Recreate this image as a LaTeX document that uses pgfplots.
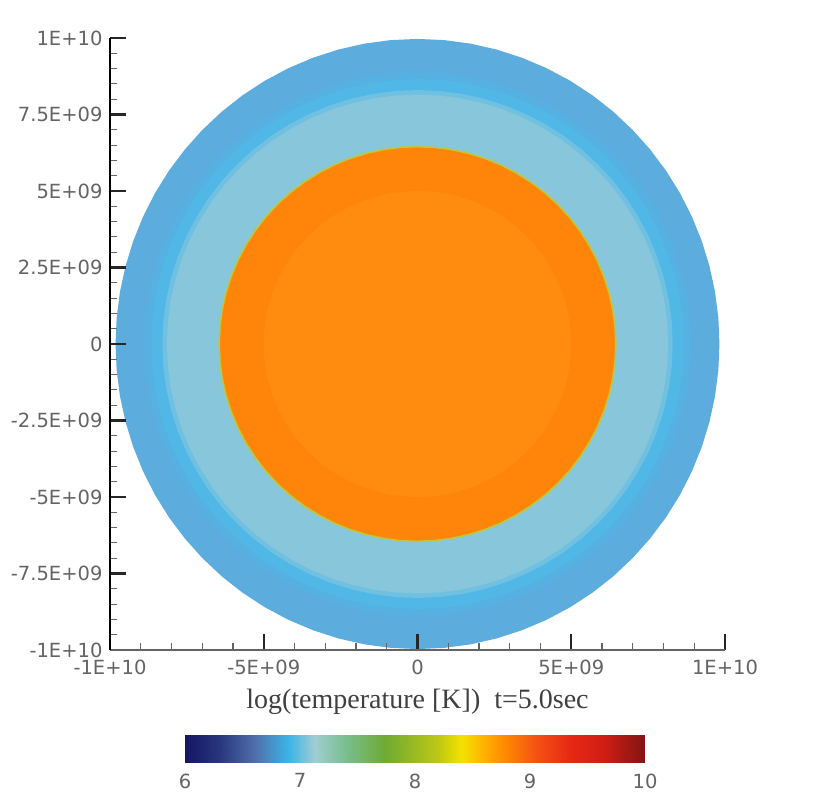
\documentclass[border=0pt]{standalone}
\usepackage{fontspec}
\usepackage{pgfplots}
\pgfplotsset{compat=1.18}
\usepackage{pgfplotstable}
\newfontfamily\ticklab{DejaVu Sans}
\newfontfamily\labfont{Liberation Serif}
\definecolor{tickgray}{RGB}{100,100,100}
\definecolor{bluemid}{RGB}{92,172,222}
\definecolor{bluetr}{RGB}{86,177,226}
\definecolor{bluebright}{RGB}{80,183,230}
\definecolor{bluetr2}{RGB}{112,192,226}
\definecolor{bluelight}{RGB}{136,198,220}
\definecolor{edgegreen}{RGB}{190,200,60}
\definecolor{orangeout}{RGB}{255,133,10}
\definecolor{orangein}{RGB}{255,140,15}

% angle (deg) and ring radii (units of 1E+09)
\pgfplotstableread{
a   r1    r2   r3   r4   r5   r6   r7
0   9.820 8.90 8.66 8.30 8.15 6.45 5.00
5   9.821 8.90 8.66 8.30 8.15 6.45 5.00
10  9.825 8.90 8.66 8.30 8.15 6.45 5.00
15  9.830 8.90 8.66 8.30 8.15 6.45 5.00
20  9.838 8.90 8.66 8.30 8.15 6.45 5.00
25  9.847 8.90 8.66 8.30 8.15 6.45 5.00
30  9.858 8.90 8.66 8.30 8.15 6.45 5.00
35  9.869 8.90 8.66 8.30 8.15 6.45 5.00
40  9.882 8.90 8.66 8.30 8.15 6.45 5.00
45  9.895 8.90 8.66 8.30 8.15 6.45 5.00
50  9.908 8.90 8.66 8.30 8.15 6.45 5.00
55  9.921 8.90 8.66 8.30 8.15 6.45 5.00
60  9.933 8.90 8.66 8.30 8.15 6.45 5.00
65  9.943 8.90 8.66 8.30 8.15 6.45 5.00
70  9.952 8.90 8.66 8.30 8.15 6.45 5.00
75  9.960 8.90 8.66 8.30 8.15 6.45 5.00
80  9.966 8.90 8.66 8.30 8.15 6.45 5.00
85  9.969 8.90 8.66 8.30 8.15 6.45 5.00
90  9.970 8.90 8.66 8.30 8.15 6.45 5.00
95  9.969 8.90 8.66 8.30 8.15 6.45 5.00
100 9.966 8.90 8.66 8.30 8.15 6.45 5.00
105 9.960 8.90 8.66 8.30 8.15 6.45 5.00
110 9.952 8.90 8.66 8.30 8.15 6.45 5.00
115 9.943 8.90 8.66 8.30 8.15 6.45 5.00
120 9.933 8.90 8.66 8.30 8.15 6.45 5.00
125 9.921 8.90 8.66 8.30 8.15 6.45 5.00
130 9.908 8.90 8.66 8.30 8.15 6.45 5.00
135 9.895 8.90 8.66 8.30 8.15 6.45 5.00
140 9.882 8.90 8.66 8.30 8.15 6.45 5.00
145 9.869 8.90 8.66 8.30 8.15 6.45 5.00
150 9.858 8.90 8.66 8.30 8.15 6.45 5.00
155 9.847 8.90 8.66 8.30 8.15 6.45 5.00
160 9.838 8.90 8.66 8.30 8.15 6.45 5.00
165 9.830 8.90 8.66 8.30 8.15 6.45 5.00
170 9.825 8.90 8.66 8.30 8.15 6.45 5.00
175 9.821 8.90 8.66 8.30 8.15 6.45 5.00
180 9.820 8.90 8.66 8.30 8.15 6.45 5.00
185 9.821 8.90 8.66 8.30 8.15 6.45 5.00
190 9.825 8.90 8.66 8.30 8.15 6.45 5.00
195 9.830 8.90 8.66 8.30 8.15 6.45 5.00
200 9.838 8.90 8.66 8.30 8.15 6.45 5.00
205 9.847 8.90 8.66 8.30 8.15 6.45 5.00
210 9.858 8.90 8.66 8.30 8.15 6.45 5.00
215 9.869 8.90 8.66 8.30 8.15 6.45 5.00
220 9.882 8.90 8.66 8.30 8.15 6.45 5.00
225 9.895 8.90 8.66 8.30 8.15 6.45 5.00
230 9.908 8.90 8.66 8.30 8.15 6.45 5.00
235 9.921 8.90 8.66 8.30 8.15 6.45 5.00
240 9.933 8.90 8.66 8.30 8.15 6.45 5.00
245 9.943 8.90 8.66 8.30 8.15 6.45 5.00
250 9.952 8.90 8.66 8.30 8.15 6.45 5.00
255 9.960 8.90 8.66 8.30 8.15 6.45 5.00
260 9.966 8.90 8.66 8.30 8.15 6.45 5.00
265 9.969 8.90 8.66 8.30 8.15 6.45 5.00
270 9.970 8.90 8.66 8.30 8.15 6.45 5.00
275 9.969 8.90 8.66 8.30 8.15 6.45 5.00
280 9.966 8.90 8.66 8.30 8.15 6.45 5.00
285 9.960 8.90 8.66 8.30 8.15 6.45 5.00
290 9.952 8.90 8.66 8.30 8.15 6.45 5.00
295 9.943 8.90 8.66 8.30 8.15 6.45 5.00
300 9.933 8.90 8.66 8.30 8.15 6.45 5.00
305 9.921 8.90 8.66 8.30 8.15 6.45 5.00
310 9.908 8.90 8.66 8.30 8.15 6.45 5.00
315 9.895 8.90 8.66 8.30 8.15 6.45 5.00
320 9.882 8.90 8.66 8.30 8.15 6.45 5.00
325 9.869 8.90 8.66 8.30 8.15 6.45 5.00
330 9.858 8.90 8.66 8.30 8.15 6.45 5.00
335 9.847 8.90 8.66 8.30 8.15 6.45 5.00
340 9.838 8.90 8.66 8.30 8.15 6.45 5.00
345 9.830 8.90 8.66 8.30 8.15 6.45 5.00
350 9.825 8.90 8.66 8.30 8.15 6.45 5.00
355 9.821 8.90 8.66 8.30 8.15 6.45 5.00
360 9.820 8.90 8.66 8.30 8.15 6.45 5.00
}\rings

\begin{document}
\begin{tikzpicture}
\path[use as bounding box, fill=white] (0,0) rectangle (830pt,806pt);
\begin{axis}[
  at={(110pt,156pt)}, anchor=south west, scale only axis,
  width=615pt, height=612pt,
  xmin=-10, xmax=10, ymin=-10, ymax=10,
  axis lines=left, axis line style={-},
  x axis line style={draw=tickgray, line width=2.6pt},
  y axis line style={draw=black, line width=2.4pt},
  tick align=inside,
  xtick={-10,-5,0,5,10},
  xticklabels={-1E+10,-5E+09,0,5E+09,1E+10},
  ytick={-10,-7.5,-5,-2.5,0,2.5,5,7.5,10},
  yticklabels={-1E+10,-7.5E+09,-5E+09,-2.5E+09,0,2.5E+09,5E+09,7.5E+09,1E+10},
  minor x tick num=4, minor y tick num=4,
  major tick length=16pt, minor tick length=7pt,
  every major tick/.append style={line width=2.4pt, draw=black!85},
  every minor tick/.append style={line width=1.1pt, draw=tickgray},
  tick label style={font=\ticklab\fontsize{19.5}{22}\selectfont, text=tickgray},
  xticklabel style={yshift=-6pt},
  yticklabel style={xshift=-4pt},
  axis on top,
  xlabel={log(temperature [K])\ \ t=5.0sec},
  xlabel style={at={(axis description cs:0.5,-0.0850)}, anchor=center,
    font=\labfont\fontsize{28}{30}\selectfont, text=black!75},
]
\addplot[data cs=polar, fill=bluemid, draw=none] table[x=a, y=r1] {\rings};
\addplot[data cs=polar, fill=bluetr, draw=none] table[x=a, y=r2] {\rings};
\addplot[data cs=polar, fill=bluebright, draw=none] table[x=a, y=r3] {\rings};
\addplot[data cs=polar, fill=bluetr2, draw=none] table[x=a, y=r4] {\rings};
\addplot[data cs=polar, fill=bluelight, draw=none] table[x=a, y=r5] {\rings};
\addplot[data cs=polar, fill=orangeout, draw=edgegreen, line width=1.6pt] table[x=a, y=r6] {\rings};
\addplot[data cs=polar, fill=orangein, draw=none] table[x=a, y=r7] {\rings};
\end{axis}

\begin{axis}[
  at={(185pt,43pt)}, anchor=south west, scale only axis,
  width=460pt, height=28pt,
  xmin=6, xmax=10, ymin=0, ymax=1,
  view={0}{90},
  colormap={temp}{rgb255(0)=(20,22,100) rgb255(30)=(40,55,125) rgb255(60)=(80,110,170)
    rgb255(90)=(60,180,230) rgb255(113)=(160,205,210) rgb255(140)=(120,190,140)
    rgb255(174)=(110,170,50) rgb255(220)=(190,200,20) rgb255(240)=(245,225,0)
    rgb255(263)=(255,170,0) rgb255(277)=(255,140,0) rgb255(306)=(245,80,20)
    rgb255(335)=(230,40,20) rgb255(363)=(210,30,20) rgb255(400)=(130,20,20)},
  point meta min=6, point meta max=10,
  axis line style={draw=none},
  ytick=\empty,
  xtick={6,7,8,9,10}, xticklabels={6,7,8,9,10},
  major tick length=0pt,
  tick label style={font=\ticklab\fontsize{19.5}{22}\selectfont, text=tickgray},
  xticklabel style={yshift=-7pt},
]
\addplot3[surf, shader=interp, point meta=x, mesh/rows=2, mesh/cols=17] table {
x y z
6 0 0
6.25 0 0
6.5 0 0
6.75 0 0
7 0 0
7.25 0 0
7.5 0 0
7.75 0 0
8 0 0
8.25 0 0
8.5 0 0
8.75 0 0
9 0 0
9.25 0 0
9.5 0 0
9.75 0 0
10 0 0
6 1 0
6.25 1 0
6.5 1 0
6.75 1 0
7 1 0
7.25 1 0
7.5 1 0
7.75 1 0
8 1 0
8.25 1 0
8.5 1 0
8.75 1 0
9 1 0
9.25 1 0
9.5 1 0
9.75 1 0
10 1 0
};
\end{axis}
\end{tikzpicture}
\end{document}
